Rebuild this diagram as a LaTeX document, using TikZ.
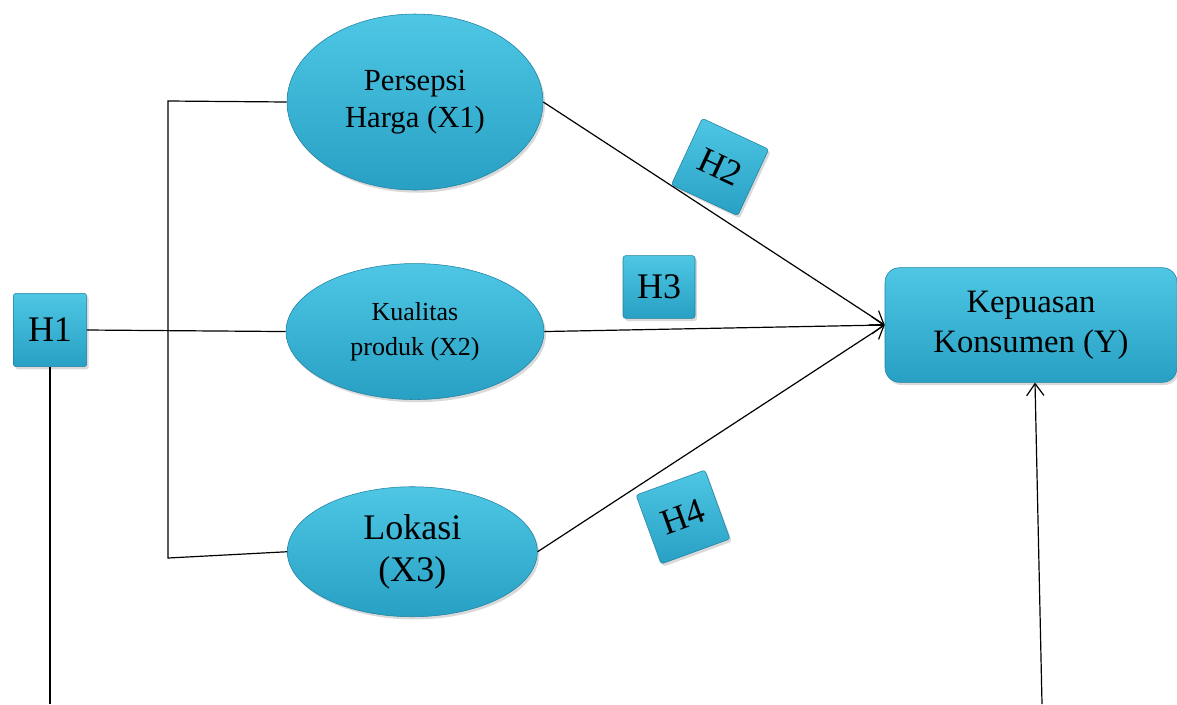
\documentclass[tikz,border=0pt]{standalone}
\usepackage{fontspec}
\setmainfont{Liberation Serif}
\usetikzlibrary{positioning,shapes.geometric,arrows.meta,shadows}
\definecolor{hyptop}{RGB}{78,198,228}
\definecolor{hypbot}{RGB}{40,160,196}
\definecolor{hypedge}{RGB}{30,128,160}
\begin{document}
\begin{tikzpicture}[x=0.75pt,y=-0.75pt]
		\tikzstyle{varell} = [ellipse, draw=hypedge, line width=0.4pt, top color=hyptop, bottom color=hypbot, text centered, align=center, drop shadow={shadow xshift=1.5pt, shadow yshift=-2pt, opacity=0.3}];
		\tikzstyle{hypbox} = [rectangle, rounded corners=2pt, draw=hypedge, line width=0.4pt, top color=hyptop, bottom color=hypbot, text centered, minimum size=55pt, inner sep=0pt, font=\fontsize{27}{30}\selectfont, drop shadow={shadow xshift=1.5pt, shadow yshift=-2pt, opacity=0.3}];
		\tikzstyle{endbox} = [rectangle, rounded corners=11pt, draw=hypedge, line width=0.4pt, top color=hyptop, bottom color=hypbot, text centered, align=center, drop shadow={shadow xshift=1.5pt, shadow yshift=-2pt, opacity=0.3}];
		\tikzstyle{conn} = [line width=0.9pt, black];
		\tikzstyle{arr} = [-{Straight Barb[length=9pt,width=13pt]}];
		\useasboundingbox (0,0) rectangle (1177,704);
		% variables
		\node (X1) [varell, minimum width=192pt, minimum height=132pt, font=\fontsize{23}{28}\selectfont] at (415,102) {Persepsi\\Harga (X1)};
		\node (X2) [varell, minimum width=193.5pt, minimum height=102pt, font=\fontsize{19.5}{26}\selectfont, below=54.75pt of X1] {Kualitas\\produk (X2)};
		\node (X3) [varell, minimum width=187.5pt, minimum height=97.5pt, font=\fontsize{27}{32}\selectfont, below=65pt of X2, xshift=-2pt] {Lokasi\\(X3)};
		\node (Y) [endbox, minimum width=219pt, minimum height=86pt, font=\fontsize{24.5}{30}\selectfont] at (1031,325) {Kepuasan\\Konsumen (Y)};
		% hypotheses
		\node (H1) [hypbox] at (50,330) {H1};
		\node (H2) [hypbox, rotate=-25] at (720,167) {H2};
		\node (H3) [hypbox, minimum width=54pt, minimum height=47pt] at (659,287) {H3};
		\node (H4) [hypbox, rotate=20] at (683,517) {H4};
		% connectors
		\coordinate (brtop) at (168,101);
		\coordinate (brbot) at (168,558);
		\coordinate (h1foot) at (50,704);
		\coordinate (yfoot) at (1042,704);
		\draw[conn] (X1.west) -- (brtop) -- (brbot) -- (X3.west);
		\draw[conn] (H1.east) -- (X2.west);
		\draw[conn] (H1.south) -- (h1foot);
		\draw[conn, arr] (X1.east) -- (Y.west);
		\draw[conn, arr] (X2.east) -- (Y.west);
		\draw[conn, arr] (X3.east) -- (Y.west);
		\draw[conn, arr] (yfoot) -- ([xshift=3pt]Y.south);
\end{tikzpicture}
\end{document}
